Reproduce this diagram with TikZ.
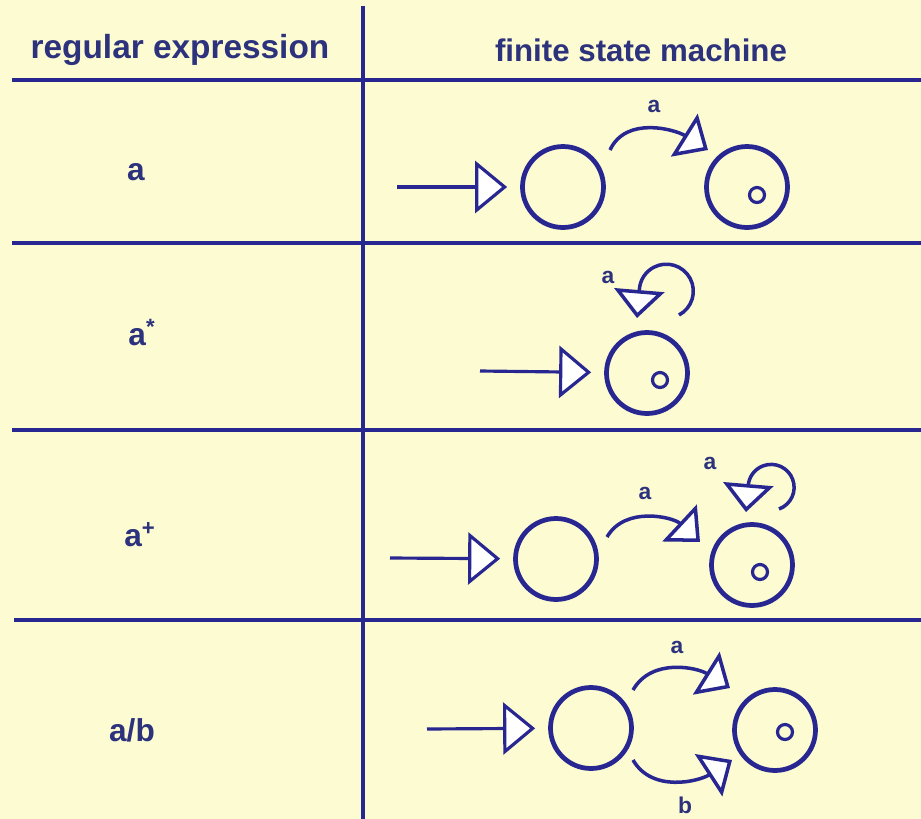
\documentclass[tikz,border=0pt]{standalone}
\usepackage{fontspec}
\setmainfont{Liberation Sans}
\usetikzlibrary{arrows.meta}
\definecolor{bg}{RGB}{253,251,210}
\definecolor{ink}{RGB}{40,38,145}
\definecolor{txt}{RGB}{45,50,125}
\tikzset{
  state/.style={circle, draw=ink, line width=2.7pt, minimum size=1.62cm, inner sep=0pt},
  accept/.style={circle, draw=ink, line width=1.8pt, minimum size=0.3cm, inner sep=0pt},
  entry/.style={draw=ink, line width=1.8pt, shorten >=0.26cm, -{Triangle[length=0.64cm, width=1.04cm, fill=white]}},
  trans/.style={draw=ink, line width=2pt, -{Triangle[length=0.56cm, width=1.0cm, fill=white]}},
  gridline/.style={draw=ink, line width=2.4pt},
  head/.style={text=txt, font=\fontsize{19pt}{22pt}\selectfont\bfseries, inner sep=0pt},
  rx/.style={text=txt, font=\fontsize{18pt}{21pt}\selectfont\bfseries, inner sep=0pt},
  lab/.style={text=txt, font=\fontsize{13pt}{15pt}\selectfont\bfseries, inner sep=0pt},
}
\begin{document}
\begin{tikzpicture}[x=0.02cm, y=-0.02cm]
\fill[bg] (0,0) rectangle (921,819);
\useasboundingbox (0,0) rectangle (921,819);
% table
\draw[gridline] (12,80) -- (921,80);
\draw[gridline] (12,243) -- (921,243);
\draw[gridline] (12,430) -- (921,430);
\draw[gridline] (14,620) -- (921,620);
\draw[draw=ink, line width=1.8pt] (363,6) -- (363,819);
% headers
\node[head] (h1) at (180,50) {regular expression};
\node[head, font=\fontsize{17.8pt}{21pt}\selectfont\bfseries] (h2) at (641,50) {finite state machine};
% row labels
\node[rx] (r1) at (136,172) {a};
\node[rx] (r2) at (142,333) {a\textsuperscript{*}};
\node[rx] (r3) at (140,535) {a\textsuperscript{+}};
\node[rx] (r4) at (132,730) {a/b};
% row 1
\node[state] (s10) at (563,187) {};
\node[state] (s11) at (747,187) {};
\node[accept] (f11) at (757,195) {};
\coordinate (in1) at (397,187);
\draw[entry] (in1) -- (s10);
\draw[trans] ([shift={(47,-37)}]s10.center) to[out=65,in=148] ([shift={(-39,-37)}]s11.center);
\node[lab] (l1) at (654,106) {a};
% row 2
\node[state] (s2) at (647,373) {};
\node[accept] (f2) at (660,380) {};
\coordinate (in2) at (480,371);
\draw[entry] (in2) -- (s2);
\draw[trans] ([shift={(32,-58)}]s2.center) arc[start angle=-62, end angle=176, radius=0.54cm] -- ([shift={(-10,-55)}]s2.center);
\node[lab] (l2) at (608,277) {a};
% row 3
\node[state] (s30) at (556,559) {};
\node[state] (s31) at (752,565) {};
\node[accept] (f31) at (760,572) {};
\coordinate (in3) at (390,558);
\draw[entry] (in3) -- (s30);
\draw[trans] ([shift={(51,-22)}]s30.center) to[out=60,in=137] ([shift={(-52,-23)}]s31.center);
\node[lab] (l3) at (645,493) {a};
\draw[trans] ([shift={(27,-56)}]s31.center) arc[start angle=-70, end angle=176, radius=0.46cm] -- ([shift={(-6,-53)}]s31.center);
\node[lab] (l4) at (710,463) {a};
% row 4
\node[state] (s40) at (591,728) {};
\node[state] (s41) at (775,730) {};
\node[accept] (f41) at (785,732) {};
\coordinate (in4) at (427,729);
\draw[entry] (in4) -- (s40);
\draw[trans] ([shift={(42,-38)}]s40.center) to[out=60,in=148] ([shift={(-45,-42)}]s41.center);
\node[lab] (l5) at (677,647) {a};
\draw[trans] ([shift={(42,32)}]s40.center) to[out=-60,in=-147] ([shift={(-43,30)}]s41.center);
\node[lab] (l6) at (685,805) {b};
\end{tikzpicture}
\end{document}
